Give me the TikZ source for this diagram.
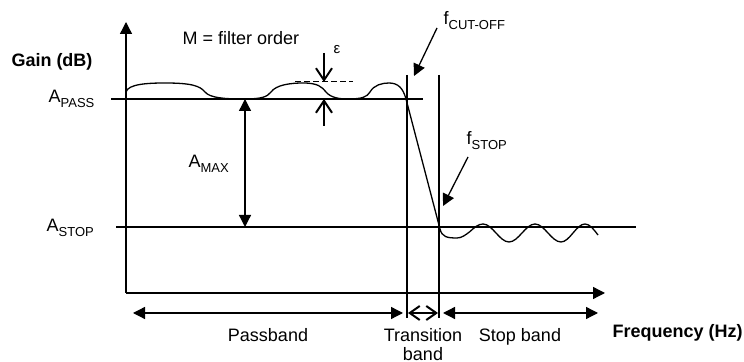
\documentclass[tikz,border=0pt]{standalone}
\usepackage{fontspec}
\setmainfont{Liberation Sans}
\usetikzlibrary{arrows.meta}

\newcommand{\lowtxt}[1]{\raisebox{-0.5ex}{\fontsize{6.5}{7}\selectfont #1}}

\tikzset{
  plotline/.style={line width=0.65pt},
  lbl/.style={inner sep=0pt,font=\fontsize{9}{11}\selectfont},
  boldlbl/.style={lbl,font=\fontsize{9}{11}\selectfont\bfseries},
  opentips/.style={arrows={Straight Barb[length=5pt,width=7pt,line width=1pt]-Straight Barb[length=5pt,width=7pt,line width=1pt]}},
  opentip/.style={arrows={-Straight Barb[length=6pt,width=8pt,line width=1pt]}}
}

\begin{document}
\begin{tikzpicture}[x=0.5pt,y=-0.5pt,>={Triangle[length=6pt,width=6pt]},plotline]
\useasboundingbox (0,0) rectangle (744,362);

% axes
\coordinate (orig) at (126,293);
\coordinate (ytop) at (126,22);
\coordinate (xend) at (605,293);
\draw[->] (orig) -- (ytop);
\draw[->] (orig) -- (xend);

% gain levels
\coordinate (passL) at (111,99);
\coordinate (passR) at (423,99);
\coordinate (stopL) at (116,227);
\coordinate (stopR) at (636,227);
\draw (passL) -- (passR);
\draw (stopL) -- (stopR);

% band edges
\coordinate (cutT) at (407,75);
\coordinate (cutB) at (407,318);
\coordinate (edgeT) at (439,75);
\coordinate (edgeB) at (439,318);
\draw (cutT) -- (cutB);
\draw (edgeT) -- (edgeB);

% response
\draw (126,92) .. controls (128,84) and (148,83) .. (165,83)
  .. controls (192,83) and (200,86) .. (205,92)
  .. controls (210,98) and (225,99) .. (243,99)
  .. controls (262,99) and (267,97) .. (271,92)
  .. controls (276,85) and (290,83) .. (303,83)
  .. controls (318,83) and (322,87) .. (326,92)
  .. controls (331,98) and (340,99) .. (348,99)
  .. controls (362,99) and (367,97) .. (370,92)
  .. controls (374,85) and (382,83) .. (389,83)
  .. controls (398,83) and (403,88) .. (406,99)
  -- (440,229)
  .. controls (442,237) and (447,238) .. (457,238)
  cos (470,231.5) sin (483,224) cos (496,233) sin (509,242)
  cos (522,233) sin (535,224) cos (548,233) sin (561,242)
  cos (573,233) sin (585,224) cos (598,235);

% ripple
\coordinate (rippleL) at (295,82);
\coordinate (rippleR) at (353,82);
\draw[dashed,line width=0.5pt,dash pattern=on 3pt off 1.5pt] (rippleL) -- (rippleR);
\coordinate (epsA) at (324,53);
\coordinate (epsB) at (324,82);
\coordinate (epsC) at (324,126);
\coordinate (epsD) at (324,99);
\draw[opentip] (epsA) -- (epsB);
\draw[opentip] (epsC) -- (epsD);

% attenuation
\coordinate (maxT) at (245,99);
\coordinate (maxB) at (245,227);
\draw[<->] (maxT) -- (maxB);

% pointers
\coordinate (fcutTail) at (437,28);
\coordinate (fcutTip) at (414,76);
\coordinate (fstopTail) at (468,157);
\coordinate (fstopTip) at (443,206);
\draw[->] (fcutTail) -- (fcutTip);
\draw[->] (fstopTail) -- (fstopTip);

% bands
\coordinate (pbL) at (133,313);
\coordinate (pbR) at (403,313);
\coordinate (tbL) at (408,313);
\coordinate (tbR) at (438,313);
\coordinate (sbL) at (443,313);
\coordinate (sbR) at (598,313);
\draw[<->] (pbL) -- (pbR);
\draw[opentips] (tbL) -- (tbR);
\draw[<->] (sbL) -- (sbR);

% labels
\node[boldlbl] (gain) at (52,62) {Gain (dB)};
\node[lbl,anchor=base east] (apass) at (95,103) {A\lowtxt{PASS}};
\node[lbl,anchor=base west] (amax) at (188,168) {A\lowtxt{MAX}};
\node[lbl,anchor=base west] (astop) at (46,232) {A\lowtxt{STOP}};
\node[lbl,anchor=base west] (order) at (182,45) {M = filter order};
\node[lbl,font=\fontsize{7.5}{8}\selectfont] (eps) at (337,50) {ε};
\node[lbl,anchor=base west] (fcut) at (443,25) {f\lowtxt{CUT-OFF}};
\node[lbl,anchor=base west] (fstop) at (466,145) {f\lowtxt{STOP}};
\node[lbl,anchor=base] (pband) at (268,342) {Passband};
\node[lbl,anchor=base] (tband) at (423,342) {Transition};
\node[lbl,anchor=base] (tband2) at (423,361) {band};
\node[lbl,anchor=base] (sband) at (520,342) {Stop band};
\node[boldlbl,anchor=base west] (freq) at (612,338) {Frequency (Hz)};
\end{tikzpicture}
\end{document}
